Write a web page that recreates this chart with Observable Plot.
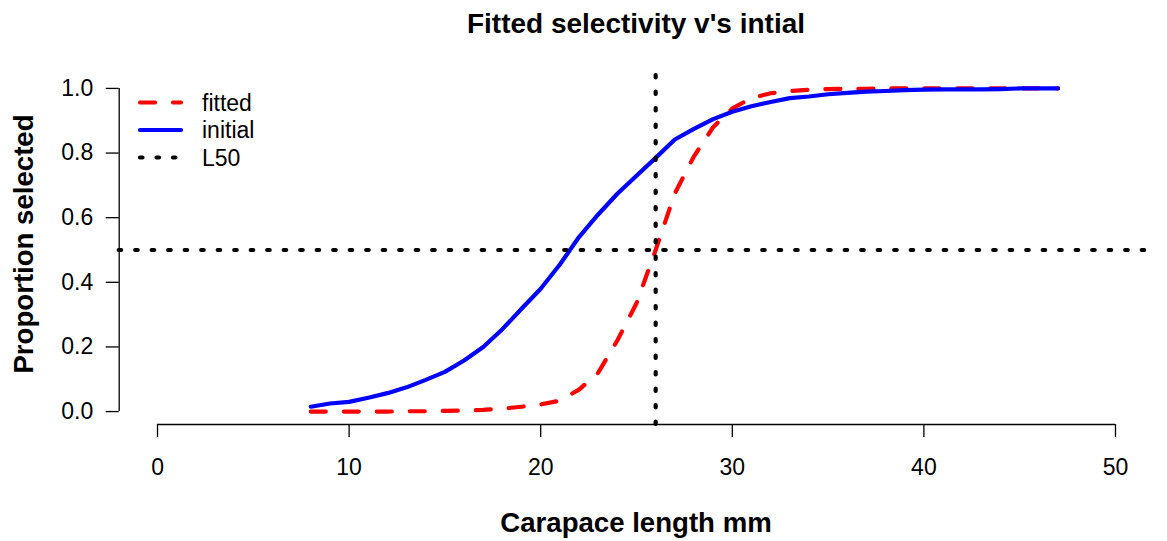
<!DOCTYPE html>
<html>
<head>
<meta charset="utf-8">
<script src="https://cdn.jsdelivr.net/npm/d3@7"></script>
<script src="https://cdn.jsdelivr.net/npm/@observablehq/plot@0.6"></script>
<style>
  html, body { margin: 0; padding: 0; background: #fff; }
  #chart { position: relative; width: 1167px; height: 541px; }
  #chart svg { display: block; }
</style>
</head>
<body>
<div id="chart"></div>
<script>
const titleText = "Fitted selectivity v's intial";
const xLabel = "Carapace length mm";
const yLabel = "Proportion selected";
const seriesNames = ["fitted", "initial", "L50"];

const lengths = [8, 9, 10, 11, 12, 13, 14, 15, 16, 17, 18, 19, 20, 21, 22, 23, 24, 25, 26, 27,
                 28, 29, 30, 31, 32, 33, 34, 35, 36, 37, 38, 39, 40, 41, 42, 43, 44, 45, 46, 47];
const fitted = [0, 0, 0, 0, 0, 0.001, 0.001, 0.002, 0.003, 0.005, 0.009, 0.015, 0.022, 0.034, 0.068, 0.12, 0.22, 0.335, 0.5, 0.675,
                0.79, 0.88, 0.938, 0.97, 0.985, 0.992, 0.996, 0.998, 0.999, 0.999, 1, 1, 1, 1, 1, 1, 1, 1, 1, 1];
const initial = [0.015, 0.025, 0.03, 0.043, 0.057, 0.075, 0.098, 0.123, 0.158, 0.2, 0.255, 0.318, 0.38, 0.455, 0.54, 0.61, 0.674, 0.73, 0.785, 0.842,
                 0.875, 0.905, 0.928, 0.945, 0.958, 0.97, 0.975, 0.982, 0.986, 0.99, 0.992, 0.995, 0.996, 0.997, 0.997, 0.997, 0.998, 1, 1, 1];
const L50 = 26;
const halfLevel = 0.5;
const xTicks = [0, 10, 20, 30, 40, 50];
const yTicks = [0, 0.2, 0.4, 0.6, 0.8, 1.0];

const fittedData = lengths.map((x, i) => ({x, y: fitted[i]}));
const initialData = lengths.map((x, i) => ({x, y: initial[i]}));

const FONT = "'Liberation Sans', Arial, Helvetica, sans-serif";
const LW = 4.2;
const DASH = "15,18";
const DOT = "2.5,14";

const plot = Plot.plot({
  width: 1167,
  height: 541,
  marginLeft: 118.7,
  marginRight: 13.7,
  marginTop: 75,
  marginBottom: 117,
  style: {fontFamily: FONT, fontSize: "23px", color: "#000", background: "#fff"},
  x: {domain: [-2, 52]},
  y: {domain: [-0.04, 1.04]},
  marks: [
    Plot.axisX({ticks: xTicks, tickSize: 13, tickPadding: 21, fontSize: 23, label: null, strokeWidth: 1.3}),
    Plot.ruleY([-0.04], {x1: xTicks[0], x2: xTicks[xTicks.length - 1], strokeWidth: 1.3}),
    Plot.axisY({ticks: yTicks, tickSize: 13, tickPadding: 13, fontSize: 23, label: null, tickFormat: d3.format(".1f"), strokeWidth: 1.3}),
    Plot.ruleX([-2], {y1: yTicks[0], y2: yTicks[yTicks.length - 1], strokeWidth: 1.3}),
    Plot.line(fittedData, {x: "x", y: "y", stroke: "#ff0000", strokeWidth: LW, strokeDasharray: DASH, strokeLinecap: "round"}),
    Plot.line(initialData, {x: "x", y: "y", stroke: "#0000ff", strokeWidth: LW}),
    Plot.ruleY([halfLevel], {stroke: "#000", strokeWidth: LW, strokeDasharray: DOT, strokeLinecap: "round"}),
    Plot.ruleX([L50], {stroke: "#000", strokeWidth: LW, strokeDasharray: DOT, strokeLinecap: "round"})
  ]
});

const chart = document.getElementById("chart");
chart.appendChild(plot);

const svg = d3.select(plot);
const cx = (118.7 + 1153.3) / 2;
svg.append("text").attr("x", cx).attr("y", 33).attr("text-anchor", "middle")
  .attr("font-family", FONT).attr("font-size", 28).attr("font-weight", "bold").attr("fill", "#000").text(titleText);
svg.append("text").attr("x", cx).attr("y", 532).attr("text-anchor", "middle")
  .attr("font-family", FONT).attr("font-size", 27.6).attr("font-weight", "bold").attr("fill", "#000").text(xLabel);
svg.append("text").attr("transform", "translate(33,244) rotate(-90)").attr("text-anchor", "middle")
  .attr("font-family", FONT).attr("font-size", 27.6).attr("font-weight", "bold").attr("fill", "#000").text(yLabel);

// legend
const legendItems = [
  {name: seriesNames[0], stroke: "#ff0000", dash: DASH},
  {name: seriesNames[1], stroke: "#0000ff", dash: null},
  {name: seriesNames[2], stroke: "#000", dash: DOT}
];
const lg = svg.append("g").attr("class", "legend").attr("text-anchor", "start");
legendItems.forEach((d, i) => {
  const yy = 102.5 + i * 27.5;
  lg.append("line").attr("x1", 140).attr("x2", 181).attr("y1", yy).attr("y2", yy)
    .attr("stroke", d.stroke).attr("stroke-width", LW).attr("stroke-linecap", "round")
    .attr("stroke-dasharray", d.dash);
  lg.append("text").attr("x", 202).attr("y", yy + 8).attr("text-anchor", "start")
    .attr("font-family", FONT).attr("font-size", 23).attr("fill", "#000").text(d.name);
});
</script>
</body>
</html>
